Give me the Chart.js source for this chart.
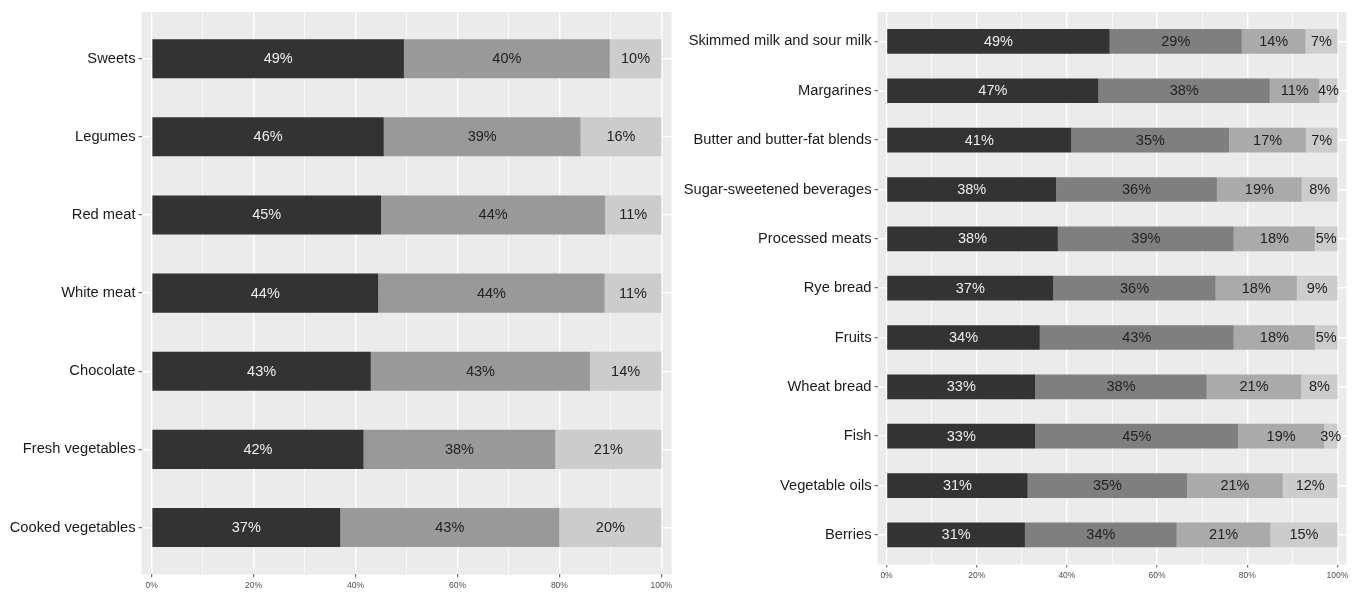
<!DOCTYPE html>
<html><head><meta charset="utf-8">
<script src="https://cdn.jsdelivr.net/npm/chart.js@4.4.1/dist/chart.umd.min.js"></script>
<style>
html,body{margin:0;padding:0;background:#fff;}
#wrap{position:relative;width:1360px;height:595px;overflow:hidden;}
.c{position:absolute;top:0;width:680px;height:595px;}
</style></head><body>
<div id="wrap">
<div class="c" style="left:0"><canvas id="leftChart"></canvas></div>
<div class="c" style="left:680px"><canvas id="rightChart"></canvas></div>
</div>
<script>
// ---- Data ----
const leftCategories = ["Sweets","Legumes","Red meat","White meat","Chocolate","Fresh vegetables","Cooked vegetables"];
const leftSeries1 = [49,46,45,44,43,42,37];
const leftSeries2 = [40,39,44,44,43,38,43];
const leftSeries3 = [10,16,11,11,14,21,20];

const rightCategories = ["Skimmed milk and sour milk","Margarines","Butter and butter-fat blends","Sugar-sweetened beverages","Processed meats","Rye bread","Fruits","Wheat bread","Fish","Vegetable oils","Berries"];
const rightSeries1 = [49,47,41,38,38,37,34,33,33,31,31];
const rightSeries2 = [29,38,35,36,39,36,43,38,45,35,34];
const rightSeries3 = [14,11,17,19,18,18,18,21,19,21,21];
const rightSeries4 = [7,4,7,8,5,9,5,8,3,12,15];

const xGridValues = [0,10,20,30,40,50,60,70,80,90,100];
const xTickLabels = {0:"0%",20:"20%",40:"40%",60:"60%",80:"80%",100:"100%"};

// ---- Styling ----
const FONT = '"Liberation Sans", Arial, Helvetica, sans-serif';
const leftColors = ["#333333","#999999","#cccccc"];
const leftTextColors = ["#eeeeee","#222222","#222222"];
const rightColors = ["#333333","#7f7f7f","#aaaaaa","#cccccc"];
const rightTextColors = ["#eeeeee","#222222","#222222","#222222"];

const panelBg = {
  id: 'panelBg',
  beforeDraw(chart) {
    const a = chart.chartArea, ctx = chart.ctx;
    ctx.save();
    ctx.fillStyle = '#ebebeb';
    ctx.fillRect(a.left, a.top, a.right - a.left, a.bottom - a.top);
    ctx.restore();
  }
};

const valueLabels = {
  id: 'valueLabels',
  afterDatasetsDraw(chart) {
    const ctx = chart.ctx;
    ctx.save();
    ctx.font = '14.5px ' + FONT;
    ctx.textAlign = 'center';
    ctx.textBaseline = 'middle';
    chart.data.datasets.forEach((ds, di) => {
      const meta = chart.getDatasetMeta(di);
      meta.data.forEach((el, i) => {
        const p = el.getProps(['x','y','base'], true);
        ctx.fillStyle = ds.labelColor;
        ctx.fillText(ds.rawValues[i] + '%', (p.x + p.base) / 2, p.y + 0.5);
      });
    });
    ctx.restore();
  }
};

function buildChart(id, categories, seriesList, colors, textColors, geom) {
  const totals = categories.map((c, i) => seriesList.reduce((s, arr) => s + arr[i], 0));
  const datasets = seriesList.map((arr, k) => ({
    label: 'Segment ' + (k + 1),
    data: categories.map((c, i) => ({ x: arr[i] / totals[i] * 100, y: i + 1 })),
    rawValues: arr,
    labelColor: textColors[k],
    backgroundColor: colors[k],
    borderWidth: 0,
    stack: 'all',
    categoryPercentage: 1,
    barPercentage: 0.5
  }));
  return new Chart(document.getElementById(id), {
    type: 'bar',
    data: { datasets },
    plugins: [panelBg, valueLabels],
    options: {
      indexAxis: 'y',
      responsive: true,
      maintainAspectRatio: false,
      devicePixelRatio: 1,
      animation: false,
      layout: { padding: { top: geom.top, right: geom.right, bottom: 0, left: 0 } },
      plugins: { legend: { display: false }, tooltip: { enabled: false } },
      scales: {
        x: {
          type: 'linear', min: -2, max: 102, stacked: true, position: 'bottom',
          offset: false,
          border: { display: false },
          afterBuildTicks: s => { s.ticks = xGridValues.map(v => ({ value: v })); },
          afterFit: s => { s.height = geom.xHeight; },
          grid: {
            offset: false,
            color: '#ffffff',
            lineWidth: c => (c.tick && c.tick.value % 20 === 0) ? 1.4 : 0.7,
            drawTicks: true, tickLength: 3, tickWidth: 1,
            tickColor: c => (c.tick && c.tick.value % 20 === 0) ? '#555555' : 'rgba(0,0,0,0)'
          },
          ticks: {
            autoSkip: false, maxRotation: 0, padding: 3,
            color: '#4d4d4d', font: { family: FONT, size: 8.5 },
            callback: v => (xTickLabels[v] !== undefined ? xTickLabels[v] : '')
          }
        },
        y: {
          type: 'linear', min: 0.4, max: categories.length + 0.6, reverse: true,
          offset: false,
          border: { display: false },
          afterBuildTicks: s => { s.ticks = categories.map((c, i) => ({ value: i + 1 })); },
          afterFit: s => { s.width = geom.yWidth; },
          grid: { offset: false, color: '#ffffff', lineWidth: 1.4, drawTicks: true, tickLength: 3, tickWidth: 1, tickColor: '#555555' },
          ticks: {
            autoSkip: false, padding: 3,
            color: '#1a1a1a', font: { family: FONT, size: 14.7 },
            callback: v => categories[Math.round(v) - 1]
          }
        }
      }
    }
  });
}

buildChart('leftChart', leftCategories, [leftSeries1, leftSeries2, leftSeries3], leftColors, leftTextColors,
  { top: 11.3, right: 8.5, xHeight: 20.6, yWidth: 141.5 });
buildChart('rightChart', rightCategories, [rightSeries1, rightSeries2, rightSeries3, rightSeries4], rightColors, rightTextColors,
  { top: 11.4, right: 13.5, xHeight: 30.5, yWidth: 197.5 });
</script>
</body></html>
